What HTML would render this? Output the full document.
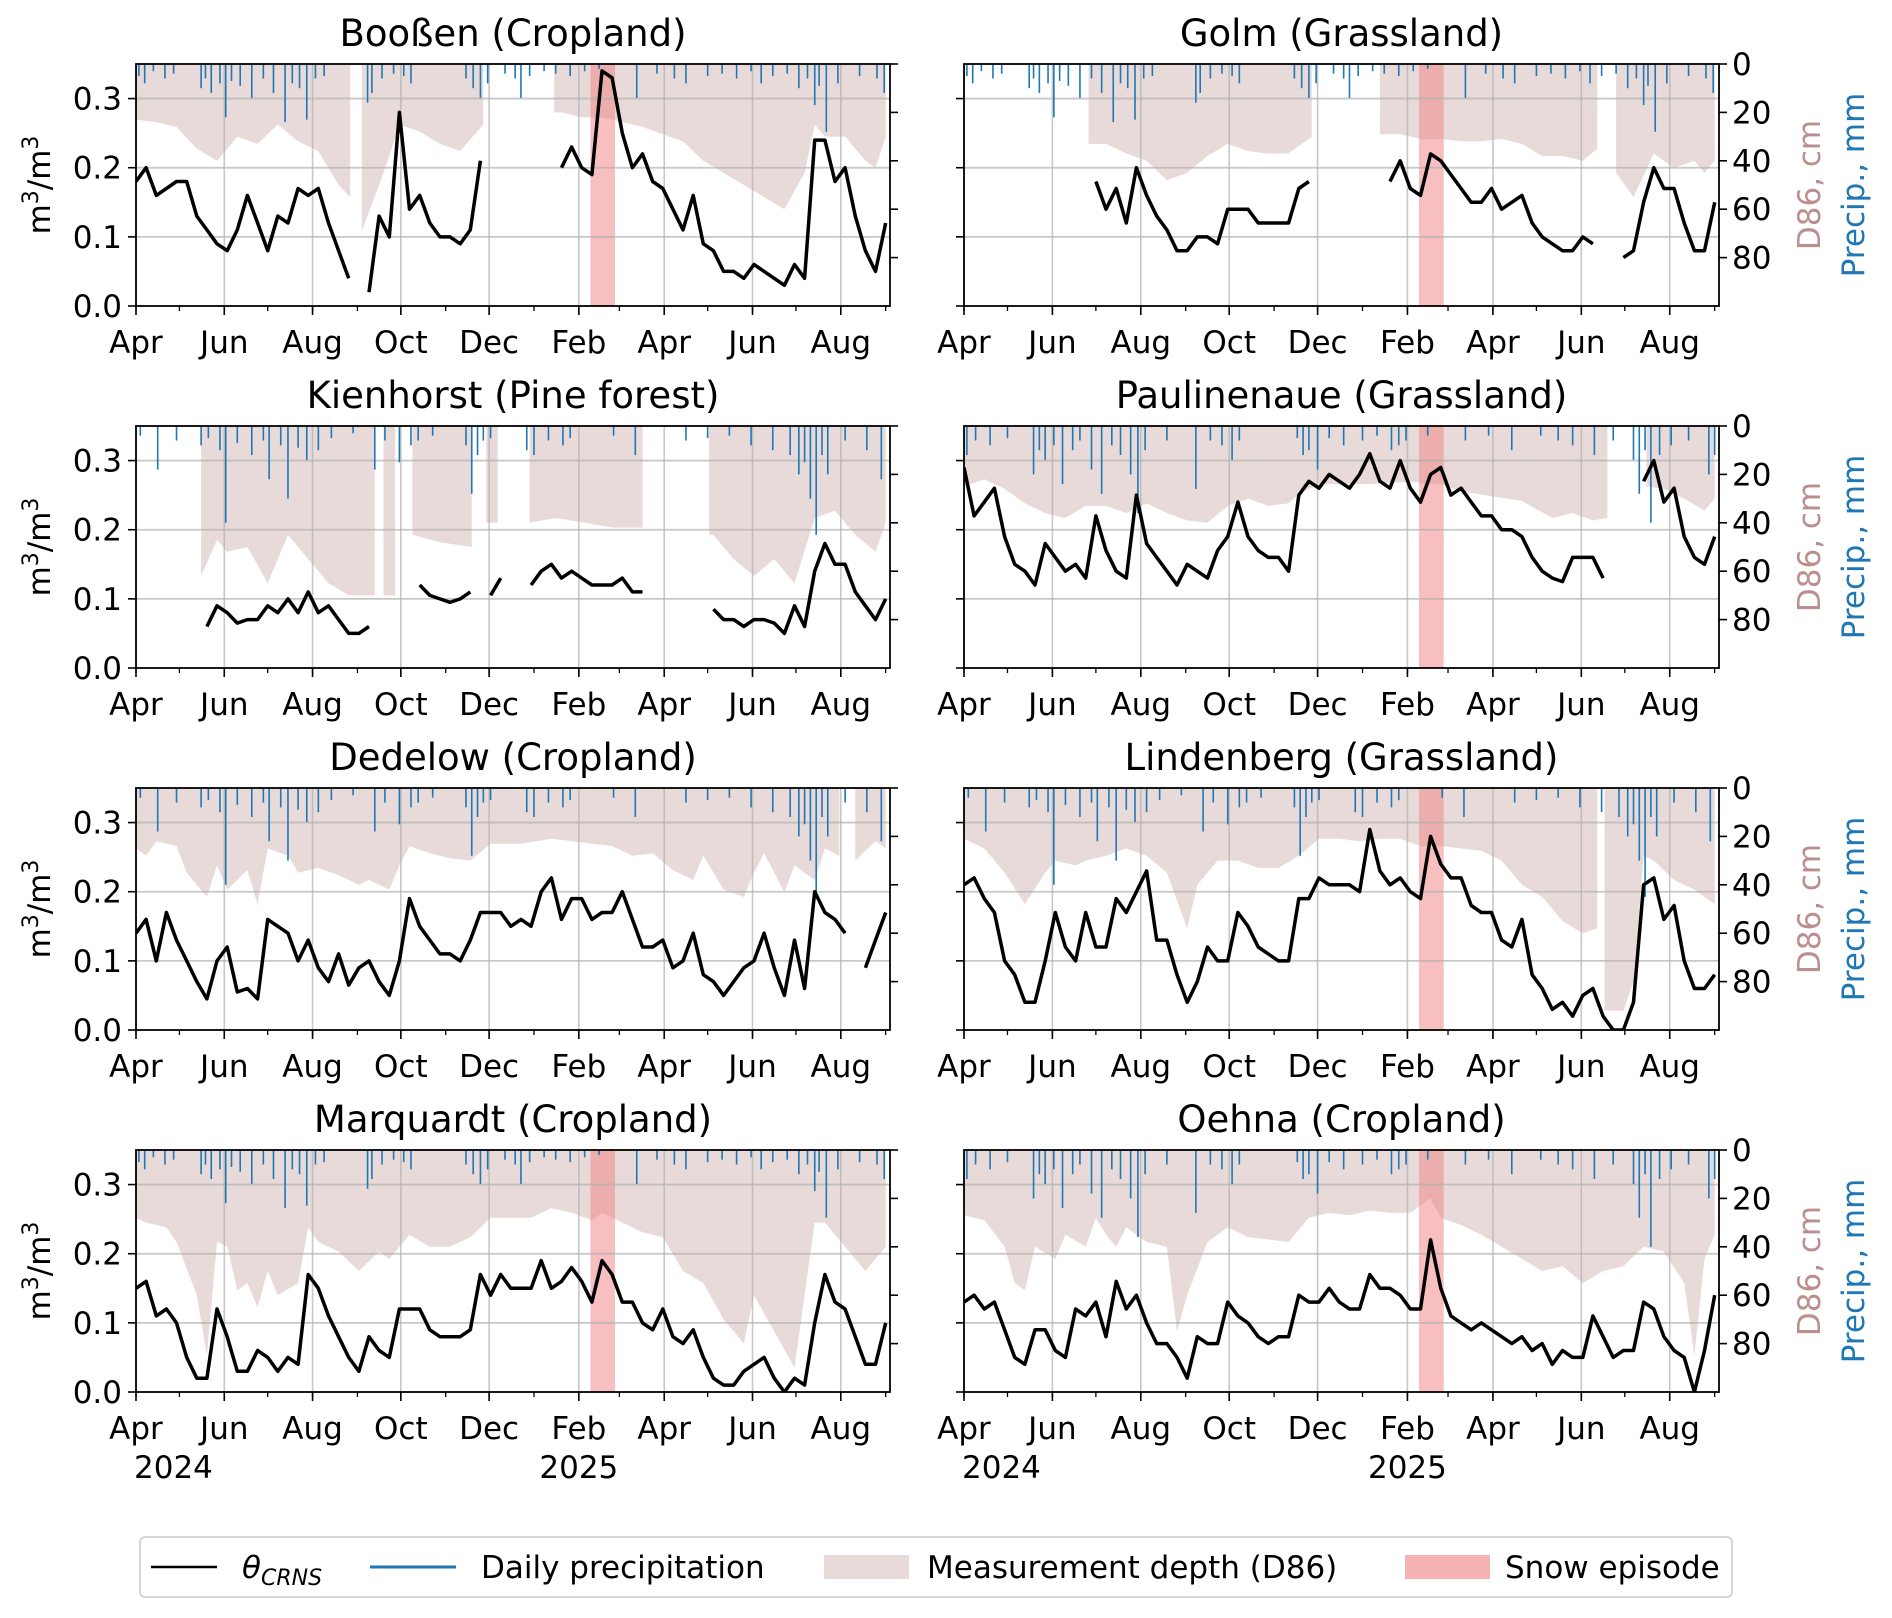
<!DOCTYPE html>
<html><head><meta charset="utf-8">
<style>
html,body{margin:0;padding:0;background:#fff;}
svg{display:block;font-family:"DejaVu Sans","Liberation Sans",sans-serif;}
</style></head>
<body>
<svg id="fig" width="1892" height="1618" viewBox="0 0 1892 1618" xmlns="http://www.w3.org/2000/svg"></svg>
<script>
// shared weekly day grid (days since 2024-04-01)
const weekDays = [0,7,14,21,28,35,42,49,56,63,70,77,84,91,98,105,112,119,126,133,140,147,154,161,168,175,182,189,196,203,210,217,224,231,238,245,252,259,266,273,280,287,294,301,308,315,322,329,336,343,350,357,364,371,378,385,392,399,406,413,420,427,434,441,448,455,462,469,476,483,490,497,504,511,518];
const monthTickLabels = ["Apr","Jun","Aug","Oct","Dec","Feb","Apr","Jun","Aug"];
const majorTickDays = [0,61,122,183,244,306,365,426,487];
const minorTickDays = [0,30,61,91,122,153,183,214,244,275,306,334,365,395,426,456,487,518];
const leftTicks = [0.0,0.1,0.2,0.3];
const leftTickLabels = ["0.0","0.1","0.2","0.3"];
const rightTicks = [0,20,40,60,80];
const yearLabels = ["2024","2025"];

const thetaBoossen = [0.18,0.20,0.16,0.17,0.18,0.18,0.13,0.11,0.09,0.08,0.11,0.16,0.12,0.08,0.13,0.12,0.17,0.16,0.17,0.12,0.08,0.04,null,0.02,0.13,0.10,0.28,0.14,0.16,0.12,0.10,0.10,0.09,0.11,0.21,null,null,null,null,null,null,null,0.20,0.23,0.20,0.19,0.34,0.33,0.25,0.20,0.22,0.18,0.17,0.14,0.11,0.16,0.09,0.08,0.05,0.05,0.04,0.06,0.05,0.04,0.03,0.06,0.04,0.24,0.24,0.18,0.20,0.13,0.08,0.05,0.12];
const thetaGolm = [null,null,null,null,null,null,null,null,null,null,null,null,null,0.18,0.14,0.17,0.12,0.20,0.16,0.13,0.11,0.08,0.08,0.10,0.10,0.09,0.14,0.14,0.14,0.12,0.12,0.12,0.12,0.17,0.18,null,null,null,null,null,null,null,0.18,0.21,0.17,0.16,0.22,0.21,0.19,0.17,0.15,0.15,0.17,0.14,0.15,0.16,0.12,0.10,0.09,0.08,0.08,0.10,0.09,null,null,0.07,0.08,0.15,0.20,0.17,0.17,0.12,0.08,0.08,0.15];
const thetaKienhorst = [null,null,null,null,null,null,null,0.06,0.09,0.08,0.065,0.07,0.07,0.09,0.08,0.10,0.08,0.11,0.08,0.09,0.07,0.05,0.05,0.06,null,0.06,null,null,0.12,0.105,0.10,0.095,0.10,0.11,null,0.105,0.13,null,null,0.12,0.14,0.15,0.13,0.14,0.13,0.12,0.12,0.12,0.13,0.11,0.11,null,null,null,null,null,null,0.085,0.07,0.07,0.06,0.07,0.07,0.065,0.05,0.09,0.06,0.14,0.18,0.15,0.15,0.11,0.09,0.07,0.10];
const thetaPaulinenaue = [0.29,0.22,0.24,0.26,0.19,0.15,0.14,0.12,0.18,0.16,0.14,0.15,0.13,0.22,0.17,0.14,0.13,0.25,0.18,0.16,0.14,0.12,0.15,0.14,0.13,0.17,0.19,0.24,0.19,0.17,0.16,0.16,0.14,0.25,0.27,0.26,0.28,0.27,0.26,0.28,0.31,0.27,0.26,0.30,0.26,0.24,0.28,0.29,0.25,0.26,0.24,0.22,0.22,0.20,0.20,0.19,0.16,0.14,0.13,0.125,0.16,0.16,0.16,0.13,null,null,null,0.27,0.30,0.24,0.26,0.19,0.16,0.15,0.19];
const thetaDedelow = [0.14,0.16,0.10,0.17,0.13,0.10,0.07,0.045,0.10,0.12,0.055,0.06,0.045,0.16,0.15,0.14,0.10,0.13,0.09,0.07,0.11,0.065,0.09,0.10,0.07,0.05,0.10,0.19,0.15,0.13,0.11,0.11,0.10,0.13,0.17,0.17,0.17,0.15,0.16,0.15,0.20,0.22,0.16,0.19,0.19,0.16,0.17,0.17,0.20,0.16,0.12,0.12,0.13,0.09,0.10,0.14,0.08,0.07,0.05,0.07,0.09,0.10,0.14,0.09,0.05,0.13,0.06,0.20,0.17,0.16,0.14,null,0.09,0.13,0.17];
const thetaLindenberg = [0.21,0.22,0.19,0.17,0.10,0.08,0.04,0.04,0.10,0.17,0.12,0.10,0.17,0.12,0.12,0.19,0.17,0.20,0.23,0.13,0.13,0.08,0.04,0.07,0.12,0.10,0.10,0.17,0.15,0.12,0.11,0.10,0.10,0.19,0.19,0.22,0.21,0.21,0.21,0.20,0.29,0.23,0.21,0.22,0.20,0.19,0.28,0.24,0.22,0.22,0.18,0.17,0.17,0.13,0.12,0.16,0.08,0.06,0.03,0.04,0.02,0.05,0.06,0.02,0.00,0.00,0.04,0.21,0.22,0.16,0.18,0.10,0.06,0.06,0.08];
const thetaMarquardt = [0.15,0.16,0.11,0.12,0.10,0.05,0.02,0.02,0.12,0.08,0.03,0.03,0.06,0.05,0.03,0.05,0.04,0.17,0.15,0.11,0.08,0.05,0.03,0.08,0.06,0.05,0.12,0.12,0.12,0.09,0.08,0.08,0.08,0.09,0.17,0.14,0.17,0.15,0.15,0.15,0.19,0.15,0.16,0.18,0.16,0.13,0.19,0.17,0.13,0.13,0.10,0.09,0.12,0.08,0.07,0.09,0.05,0.02,0.01,0.01,0.03,0.04,0.05,0.02,0.00,0.02,0.01,0.10,0.17,0.13,0.12,0.08,0.04,0.04,0.10];
const thetaOehna = [0.13,0.14,0.12,0.13,0.09,0.05,0.04,0.09,0.09,0.06,0.05,0.12,0.11,0.13,0.08,0.16,0.12,0.14,0.10,0.07,0.07,0.05,0.02,0.08,0.07,0.07,0.13,0.11,0.10,0.08,0.07,0.08,0.08,0.14,0.13,0.13,0.15,0.13,0.12,0.12,0.17,0.15,0.15,0.14,0.12,0.12,0.22,0.15,0.11,0.10,0.09,0.10,0.09,0.08,0.07,0.08,0.06,0.07,0.04,0.06,0.05,0.05,0.11,0.08,0.05,0.06,0.06,0.13,0.12,0.08,0.06,0.05,0.00,0.06,0.14];

const d86DaysBoossen = [0,14,28,42,56,70,84,98,112,126,140,148,152,156,168,175,182,196,210,224,240,260,289,294,308,322,336,350,364,378,392,406,420,434,448,462,469,476,490,504,511,518];
const d86Boossen = [23,24,26,35,40,30,33,25,32,36,50,55,null,69,50,38,25,28,33,36,25,null,20,20,22,22,24,26,29,32,40,45,50,55,60,45,25,30,30,40,43,30];
const d86DaysGolm = [86,98,112,126,140,154,168,182,196,210,224,240,260,287,301,315,329,343,357,371,385,399,413,427,437,444,450,462,476,490,504,511,518];
const d86Golm = [33,33,37,40,48,45,38,33,36,37,37,30,null,29,29,31,31,32,32,31,33,38,38,40,35,null,45,55,37,43,40,45,40];
const d86DaysKienhorst = [45,56,63,77,91,105,119,133,147,165,168,171,179,185,191,210,232,237,242,250,260,272,290,310,330,350,373,396,399,413,427,441,455,469,483,497,511,518];
const d86Kienhorst = [62,47,52,50,65,45,55,65,70,70,null,70,70,null,45,48,50,null,40,40,null,40,38,40,42,42,null,45,45,55,62,55,65,38,35,45,52,40];
const d86DaysPaulinenaue = [0,14,28,42,56,70,84,98,112,126,140,154,168,182,196,210,224,231,245,280,308,329,343,364,385,406,420,434,444,458,471,483,497,511,518];
const d86Paulinenaue = [25,22,26,32,36,38,33,33,36,32,36,39,40,33,30,33,32,28,24,24,23,24,27,29,31,38,36,39,38,null,25,26,30,35,30];
const d86DaysDedelow = [0,7,14,28,35,42,49,56,63,77,84,91,105,112,126,140,154,161,175,182,189,203,217,231,245,266,287,301,315,329,343,357,371,385,392,406,420,427,434,448,455,469,476,486,490,495,497,511,518];
const d86Dedelow = [25,28,22,24,35,40,45,32,42,34,48,25,28,35,33,36,40,38,42,32,24,27,29,30,23,23,21,22,23,24,28,27,34,38,28,42,45,35,27,43,32,38,25,28,null,null,30,22,25];
const d86DaysLindenberg = [0,14,28,42,56,63,77,84,98,112,126,140,154,161,175,189,203,217,231,245,259,273,287,301,315,329,343,357,371,385,399,413,427,437,440,442,455,462,469,476,490,504,518];
const d86Lindenberg = [21,25,35,48,35,30,32,30,28,25,28,35,58,40,30,30,33,33,28,21,21,22,21,21,24,24,25,26,30,40,45,55,60,58,null,92,92,80,28,30,38,42,48];
const d86DaysMarquardt = [0,7,21,28,42,49,56,63,70,77,84,91,98,112,119,126,140,154,168,175,189,203,217,231,245,259,273,287,301,315,322,336,350,364,378,392,406,420,427,441,455,469,476,490,504,518];
const d86Marquardt = [28,30,32,38,60,85,38,40,58,55,65,50,60,55,32,38,42,50,42,45,35,40,40,36,28,28,28,24,26,29,26,30,34,36,50,55,70,80,60,75,90,30,30,40,50,40];
const d86DaysOehna = [0,14,28,35,42,49,63,70,84,91,98,105,112,126,140,147,154,168,182,196,210,224,238,252,266,280,294,308,322,329,343,357,371,385,399,413,427,441,455,469,483,497,504,511,518];
const d86Oehna = [27,29,40,55,58,40,45,35,40,28,35,40,32,38,40,75,60,38,32,36,37,38,28,26,27,25,26,26,20,28,31,35,40,45,50,48,55,50,48,40,42,55,85,45,35];

const precipADays = [2,6,12,20,26,45,48,52,58,62,66,72,80,88,95,103,108,113,118,124,130,160,163,170,178,185,190,228,233,238,243,255,262,266,272,282,290,300,310,320,346,360,372,380,395,405,415,425,432,440,450,458,464,469,472,477,485,500,512,517];
const precipAmm = [5,8,3,6,4,10,6,12,8,22,7,9,14,6,12,24,8,10,23,6,5,16,12,6,4,5,8,6,10,14,8,4,6,14,5,3,4,5,3,2,14,4,6,8,5,4,6,3,8,5,4,10,6,17,9,28,8,5,6,12];
const precipBDays = [3,15,28,45,50,58,62,70,80,88,92,100,105,112,118,126,135,150,165,172,182,190,195,205,228,232,236,240,245,270,275,285,295,300,330,345,380,395,410,425,440,452,458,462,466,470,474,478,490,505,515];
const precipBmm = [4,18,6,8,5,10,40,7,12,6,22,8,30,9,14,10,5,3,18,6,15,8,6,4,8,28,12,6,5,10,12,6,8,5,4,12,6,5,4,8,10,12,20,15,30,45,12,20,6,10,22];
const precipCDays = [2,8,18,30,48,52,56,62,68,75,80,88,95,102,108,115,120,125,140,160,170,178,185,190,230,234,238,244,252,262,275,285,295,300,305,320,346,362,378,398,410,420,435,448,462,466,470,474,480,488,500,514,518];
const precipCmm = [12,6,8,5,20,10,14,8,24,10,6,18,28,8,12,20,36,10,6,26,6,8,14,6,5,12,10,18,5,8,6,4,10,8,6,4,6,4,10,4,6,8,12,6,14,28,10,40,12,8,6,20,12];

const snowSpan = [314,331];

const panels = [
 {id:"boossen",title:"Booßen (Cropland)",col:0,row:0,theta:thetaBoossen,dd:d86DaysBoossen,dv:d86Boossen,pd:precipADays,pm:precipAmm,snow:true},
 {id:"golm",title:"Golm (Grassland)",col:1,row:0,theta:thetaGolm,dd:d86DaysGolm,dv:d86Golm,pd:precipADays,pm:precipAmm,snow:true},
 {id:"kienhorst",title:"Kienhorst (Pine forest)",col:0,row:1,theta:thetaKienhorst,dd:d86DaysKienhorst,dv:d86Kienhorst,pd:precipBDays,pm:precipBmm,snow:false},
 {id:"paulinenaue",title:"Paulinenaue (Grassland)",col:1,row:1,theta:thetaPaulinenaue,dd:d86DaysPaulinenaue,dv:d86Paulinenaue,pd:precipCDays,pm:precipCmm,snow:true},
 {id:"dedelow",title:"Dedelow (Cropland)",col:0,row:2,theta:thetaDedelow,dd:d86DaysDedelow,dv:d86Dedelow,pd:precipBDays,pm:precipBmm,snow:false},
 {id:"lindenberg",title:"Lindenberg (Grassland)",col:1,row:2,theta:thetaLindenberg,dd:d86DaysLindenberg,dv:d86Lindenberg,pd:precipBDays,pm:precipBmm,snow:true},
 {id:"marquardt",title:"Marquardt (Cropland)",col:0,row:3,theta:thetaMarquardt,dd:d86DaysMarquardt,dv:d86Marquardt,pd:precipADays,pm:precipAmm,snow:true},
 {id:"oehna",title:"Oehna (Cropland)",col:1,row:3,theta:thetaOehna,dd:d86DaysOehna,dv:d86Oehna,pd:precipCDays,pm:precipCmm,snow:true}
];

const NS="http://www.w3.org/2000/svg";
const svg=document.getElementById('fig');
const colX=[136,964], colW=[754,755], rowY=[64,426,788,1150], H=242;
const dMin=0,dMax=521, vMax=0.35, rMax=100;
const FS=31;
function mk(tag,attrs,parent){const e=document.createElementNS(NS,tag);for(const k in attrs)e.setAttribute(k,attrs[k]);(parent||svg).appendChild(e);return e;}

panels.forEach(p=>{
  const X0=colX[p.col],W=colW[p.col],Y0=rowY[p.row];
  const xs=d=>X0+(d-dMin)/(dMax-dMin)*W;
  const yl=v=>Y0+H-(v/vMax)*H;
  const yr=v=>Y0+(v/rMax)*H;
  const g=mk('g',{});
  
  
  const clipId='clip-'+p.id;
  const cp=mk('clipPath',{id:clipId},g);mk('rect',{x:X0,y:Y0,width:W,height:H},cp);
  const inner=mk('g',{'clip-path':'url(#'+clipId+')'},g);
  let seg=[];
  const flush=()=>{if(seg.length>1){let d='M'+xs(seg[0][0])+','+Y0;seg.forEach(s=>{d+=' L'+xs(s[0]).toFixed(1)+','+yr(s[1]).toFixed(1);});d+=' L'+xs(seg[seg.length-1][0])+','+Y0+' Z';
    const pa=mk('path',{d:d,fill:'rgba(188,143,143,0.33)',stroke:'none'},inner);
    
    }seg=[];};
  p.dd.forEach((d,i)=>{if(p.dv[i]===null)flush();else seg.push([d,p.dv[i]]);});flush();
  if(p.snow){const r=mk('rect',{x:xs(snowSpan[0]),y:Y0,width:xs(snowSpan[1])-xs(snowSpan[0]),height:H,fill:'rgba(240,128,128,0.5)'},inner);
    
    }
  majorTickDays.forEach(d=>mk('line',{x1:xs(d),x2:xs(d),y1:Y0,y2:Y0+H,stroke:'#b0b0b0','stroke-width':1.6,'stroke-opacity':0.7},inner));
  leftTicks.forEach(v=>{if(v>0)mk('line',{x1:X0,x2:X0+W,y1:yl(v),y2:yl(v),stroke:'#b0b0b0','stroke-width':1.8,'stroke-opacity':0.7},inner);});
  p.pd.forEach((d,i)=>{const b=mk('line',{x1:xs(d),x2:xs(d),y1:Y0,y2:yr(p.pm[i]),stroke:'#1f77b4','stroke-width':1.6},inner);
    
    });
  let dstr='',pen=false;
  weekDays.forEach((d,i)=>{const v=p.theta[i];if(v===null){pen=false;return;}dstr+=(pen?' L':' M')+xs(d).toFixed(1)+','+yl(v).toFixed(1);pen=true;});
  const ln=mk('path',{d:dstr,fill:'none',stroke:'#000','stroke-width':3.5,'stroke-linejoin':'round'},inner);
  
  
  mk('rect',{x:X0,y:Y0,width:W,height:H,fill:'none',stroke:'#000','stroke-width':1.8},g);
  minorTickDays.forEach(d=>mk('line',{x1:xs(d),x2:xs(d),y1:Y0+H,y2:Y0+H+5,stroke:'#000','stroke-width':1.3},g));
  majorTickDays.forEach((d,i)=>{mk('line',{x1:xs(d),x2:xs(d),y1:Y0+H,y2:Y0+H+9,stroke:'#000','stroke-width':1.6},g);
    const t=mk('text',{x:xs(d),y:Y0+H+47,'font-size':FS,'text-anchor':'middle',fill:'#000'},g);t.textContent=monthTickLabels[i];
    
    });
  if(p.row===3){
    const t1=mk('text',{x:X0-2,y:Y0+H+86,'font-size':FS,'text-anchor':'start'},g);t1.textContent=yearLabels[0];
    
    
    const t2=mk('text',{x:xs(majorTickDays[5]),y:Y0+H+86,'font-size':FS,'text-anchor':'middle'},g);t2.textContent=yearLabels[1];
    
    
  }
  leftTicks.forEach((v,i)=>{mk('line',{x1:X0-8,x2:X0,y1:yl(v),y2:yl(v),stroke:'#000','stroke-width':1.6},g);
    if(p.col===0){const t=mk('text',{x:X0-14,y:yl(v)+11,'font-size':FS,'text-anchor':'end'},g);t.textContent=leftTickLabels[i];
      
      }});
  rightTicks.forEach(v=>{mk('line',{x1:X0+W,x2:X0+W+8,y1:yr(v),y2:yr(v),stroke:'#000','stroke-width':1.6},g);
    if(p.col===1){const t=mk('text',{x:X0+W+13,y:yr(v)+11,'font-size':FS,'text-anchor':'start'},g);t.textContent=String(v);
      
      }});
  const tt=mk('text',{x:X0+W/2,y:Y0-18,'font-size':37,'text-anchor':'middle'},g);tt.textContent=p.title;
  
  
  const cy=Y0+H/2;
  if(p.col===0){
    const yt=mk('text',{x:0,y:0,'font-size':FS,'text-anchor':'middle',transform:'translate(50,'+cy+') rotate(-90)'},g);
    
    
    yt.innerHTML='m<tspan dy="-12" font-size="22">3</tspan><tspan dy="12">/m</tspan><tspan dy="-12" font-size="22">3</tspan>';
  } else {
    const a=mk('text',{x:0,y:0,'font-size':FS,'text-anchor':'middle',fill:'#bc8f8f',transform:'translate(1820,'+cy+') rotate(-90)'},g);a.textContent='D86, cm';
    
    
    const b=mk('text',{x:0,y:0,'font-size':FS,'text-anchor':'middle',fill:'#1f77b4',transform:'translate(1864,'+cy+') rotate(-90)'},g);b.textContent='Precip., mm';
    
    
  }
});
</script>
<div style="position:absolute;left:0;top:0;width:1892px;height:1618px;pointer-events:none;">
<svg width="1892" height="1618" style="position:absolute;left:0;top:0;font-family:'DejaVu Sans','Liberation Sans',sans-serif;">
 <g>
  <rect x="140" y="1537" width="1592" height="60" rx="5" fill="#fff" stroke="#d6d6d6" stroke-width="2"/>
  <g>
   <line x1="151" x2="217" y1="1567" y2="1567" stroke="#000" stroke-width="2.5"/>
   <text x="242" y="1578" font-size="31" font-style="italic">θ<tspan font-size="22" dy="7">CRNS</tspan></text>
  </g>
  <g>
   <line x1="370" x2="456" y1="1567" y2="1567" stroke="#1f77b4" stroke-width="3"/>
   <text x="481" y="1578" font-size="31">Daily precipitation</text>
  </g>
  <g>
   <rect x="824" y="1555" width="85" height="24" fill="rgba(188,143,143,0.33)"/>
   <text x="927" y="1578" font-size="31">Measurement depth (D86)</text>
  </g>
  <g>
   <rect x="1405" y="1555" width="85" height="24" fill="rgba(240,128,128,0.6)"/>
   <text x="1505" y="1578" font-size="31">Snow episode</text>
  </g>
 </g>
</svg>
</div>
</body></html>
